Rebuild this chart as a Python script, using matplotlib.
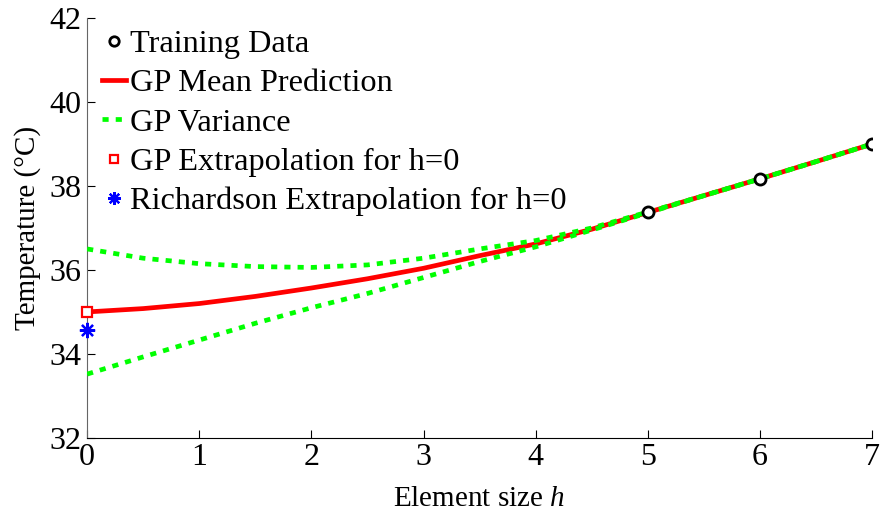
import matplotlib
matplotlib.use("Agg")
import matplotlib.pyplot as plt
import numpy as np

plt.rcParams["font.family"] = ["Liberation Serif", "DejaVu Serif"]
plt.rcParams["mathtext.fontset"] = "custom"
plt.rcParams["mathtext.it"] = "Liberation Serif:italic"
plt.rcParams["mathtext.rm"] = "Liberation Serif"

# training points
h_train = [5, 6, 7]
T_train = [37.37, 38.17, 39.0]

# GP prediction on the h grid
h_grid = [0, 0.5, 1, 1.5, 2, 2.5, 3, 3.5, 4, 4.5, 5, 5.5, 6, 6.5, 7]
gp_mean = [35.00, 35.08, 35.20, 35.37, 35.57, 35.79, 36.04, 36.34, 36.62, 36.97, 37.37, 37.77, 38.17, 38.58, 39.0]
gp_upper = [36.50, 36.28, 36.15, 36.08, 36.06, 36.12, 36.28, 36.50, 36.70, 37.00, 37.38, 37.77, 38.17, 38.58, 39.0]
gp_lower = [33.52, 33.93, 34.33, 34.73, 35.10, 35.44, 35.82, 36.20, 36.55, 36.95, 37.36, 37.77, 38.17, 38.58, 39.0]

# extrapolated values at h = 0
gp_h0 = 35.0
rich_h0 = 34.58

fig = plt.figure(figsize=(8.8, 5.14), dpi=100)
ax = fig.add_axes([0.099, 0.148, 0.892, 0.817])

ax.plot(h_grid, gp_mean, color="red", lw=3.4, label="GP Mean Prediction", zorder=2)
ax.plot(h_grid, gp_upper, color="#00ff00", lw=3.4, ls=(0, (1.3, 1.5)), label="GP Variance", zorder=3)
ax.plot(h_grid, gp_lower, color="#00ff00", lw=3.4, ls=(0, (1.3, 1.5)), zorder=3)
ax.plot(h_train, T_train, "o", mfc="white", mec="black", mew=2, ms=8, ls="none",
        label="Training Data", zorder=5)
ax.plot([0], [gp_h0], "s", mfc="white", mec="red", mew=1.6, ms=7.5, ls="none",
        label="GP Extrapolation for h=0", zorder=5, clip_on=False)
ax.plot([0], [rich_h0], marker=(8, 2, 0), color="blue", mew=1.6, ms=11, ls="none",
        label="Richardson Extrapolation for h=0", zorder=5, clip_on=False)

ax.set_xlim(0, 7)
ax.set_ylim(32, 42)
ax.set_xticks(range(0, 8))
ax.set_yticks(range(32, 43, 2))
ax.tick_params(direction="in", length=6, labelsize=23, pad=4)
for s in ["top", "right"]:
    ax.spines[s].set_visible(False)
ax.spines["left"].set_color("#666666")

ax.set_xlabel("Element size $\\mathit{h}$", fontsize=21, labelpad=10)
ax.set_ylabel("Temperature (\u00b0C)", fontsize=21, labelpad=6)

handles, labels = ax.get_legend_handles_labels()
order = [2, 0, 1, 3, 4]
leg = ax.legend([handles[i] for i in order], [labels[i] for i in order],
                loc="upper left", bbox_to_anchor=(0.019, 0.973), frameon=False, fontsize=23.3,
                handlelength=0.75, handletextpad=0.12, labelspacing=0.3,
                borderaxespad=0.0, borderpad=0.0, markerscale=0.85)

fig.savefig("out.png", dpi=100)
